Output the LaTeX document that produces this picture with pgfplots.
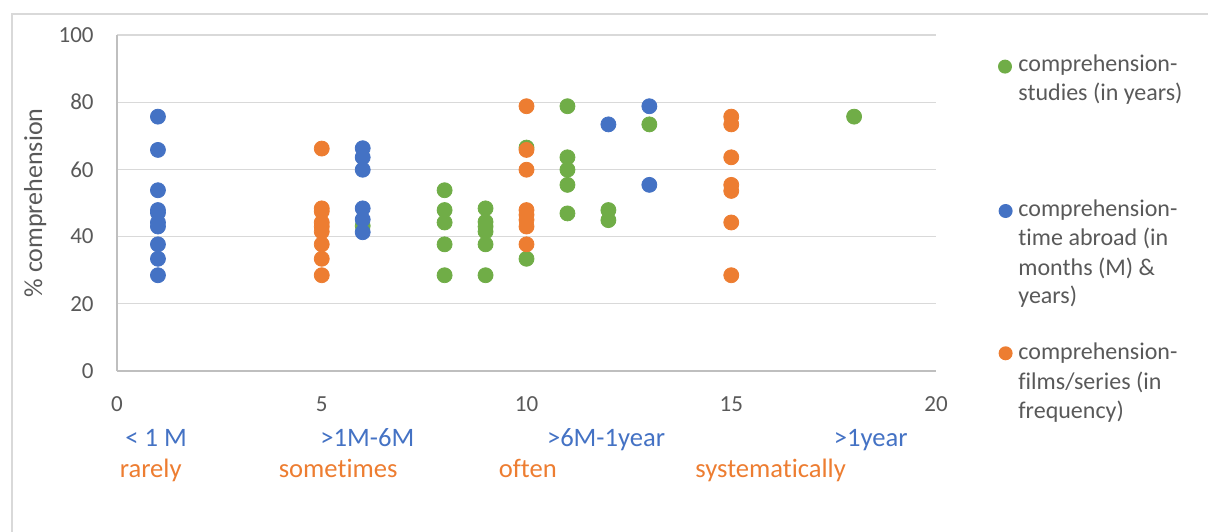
\documentclass[border=0pt]{standalone}
\usepackage{fontspec}
\setmainfont{Carlito}[Ligatures={NoCommon}]
\usepackage{pgfplots}
\pgfplotsset{compat=1.18}
\definecolor{cblue}{HTML}{4472C4}
\definecolor{corange}{HTML}{ED7D31}
\definecolor{cgreen}{HTML}{70AD47}
\definecolor{textgray}{HTML}{595959}
\definecolor{gridgray}{HTML}{D9D9D9}
\definecolor{axisgray}{HTML}{BFBFBF}
\begin{document}
\begin{tikzpicture}
\useasboundingbox (0pt,0pt) rectangle (604pt,265.5pt);
\draw[color=gridgray, line width=0.6pt] (6pt,-2pt) -- (6pt,258.5pt) -- (606pt,258.5pt);
\begin{axis}[
  at={(58.5pt,80pt)}, anchor=south west,
  scale only axis, width=409.5pt, height=168pt,
  xmin=0, xmax=20, ymin=0, ymax=100,
  xtick={0,5,10,15,20}, ytick={0,20,40,60,80,100},
  axis lines*=left,
  x axis line style={color=axisgray, line width=0.6pt},
  y axis line style={color=axisgray, line width=0.6pt},
  major tick length=0pt,
  ymajorgrids, grid style={color=gridgray, line width=0.6pt},
  tick label style={font=\fontsize{11.5}{13}\selectfont, text=textgray},
  /pgf/number format/assume math mode=true,
  yticklabel style={anchor=east, inner sep=0pt, xshift=-11.5pt},
  xticklabel style={anchor=base, inner sep=0pt, yshift=-20pt},
  ylabel={\% comprehension},
  ylabel style={at={(axis description cs:-0.1,0.5)}, anchor=center, font=\fontsize{13}{15}\selectfont, text=textgray},
  clip=false,
]
\addplot[only marks, mark=*, mark size=3.75pt, mark options={fill=cgreen, draw=cgreen}] coordinates {
(6,43.2) (8,53.8) (8,47.9) (8,44.2) (8,37.7) (8,28.5)
(9,48.4) (9,44.4) (9,43.0) (9,41.5) (9,37.7) (9,28.5)
(10,66.5) (10,33.4)
(11,78.8) (11,63.6) (11,59.9) (11,55.4) (11,46.9)
(12,47.9) (12,44.9) (13,73.4) (18,75.7)
};
\addplot[only marks, mark=*, mark size=3.75pt, mark options={fill=cblue, draw=cblue}] coordinates {
(1,75.7) (1,65.8) (1,53.8) (1,47.9) (1,47.1) (1,44.2) (1,43.0) (1,37.7) (1,33.4) (1,28.5)
(6,66.3) (6,63.6) (6,59.9) (6,48.4) (6,45.1) (6,41.3)
(12,73.4) (13,78.8) (13,55.4)
};
\addplot[only marks, mark=*, mark size=3.75pt, mark options={fill=corange, draw=corange}] coordinates {
(5,66.2) (5,48.4) (5,47.5) (5,44.2) (5,43.0) (5,41.5) (5,37.7) (5,33.4) (5,28.5)
(10,78.8) (10,65.8) (10,59.9) (10,47.9) (10,46.5) (10,45.0) (10,43.0) (10,37.7)
(15,75.7) (15,73.4) (15,63.6) (15,55.4) (15,53.6) (15,44.2) (15,28.5)
};
\end{axis}
% category labels below the x axis
\begin{scope}[every node/.style={inner sep=0pt, anchor=base west, font=\fontsize{13.3}{15}\selectfont}]
\node[text=cblue] at (62.5pt,42.5pt) {< 1 M};
\node[text=cblue] at (160pt,42.5pt) {>1M-6M};
\node[text=cblue] at (273.3pt,42.5pt) {>6M-1year};
\node[text=cblue] at (416.7pt,42.5pt) {>1year};
\node[text=corange] at (59.7pt,27pt) {rarely};
\node[text=corange] at (139.2pt,27pt) {sometimes};
\node[text=corange] at (249.2pt,27pt) {often};
\node[text=corange] at (347.5pt,27pt) {systematically};
\end{scope}
% legend
\fill[cgreen] (502.5pt,232.2pt) circle (3.5pt);
\fill[cblue] (502.8pt,160pt) circle (3.5pt);
\fill[corange] (502.8pt,88.85pt) circle (3.5pt);
\begin{scope}[every node/.style={inner sep=0pt, anchor=base west, font=\fontsize{12}{14}\selectfont, text=textgray}]
\node at (509pt,229.9pt) {comprehension-};
\node at (509pt,215.15pt) {studies (in years)};
\node at (509pt,157.15pt) {comprehension-};
\node at (509pt,142.65pt) {time abroad (in};
\node at (509pt,128pt) {months (M) \&};
\node at (509pt,114pt) {years)};
\node at (509pt,85.85pt) {comprehension-};
\node at (509pt,70.85pt) {films/series (in};
\node at (509pt,56.35pt) {frequency)};
\end{scope}
\end{tikzpicture}
\end{document}
